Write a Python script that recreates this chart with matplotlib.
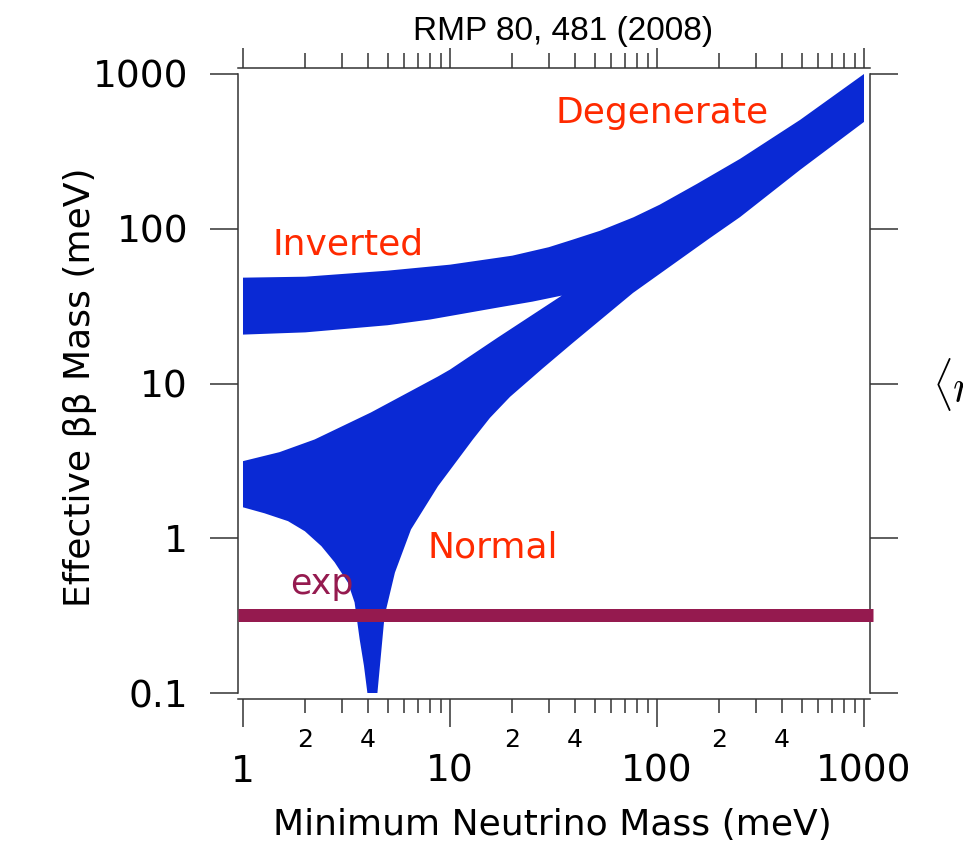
'''
Effective double-beta mass vs. minimum neutrino mass
- log-log band plot with Igor style axes
'''

import matplotlib
matplotlib.use('Agg')
import matplotlib.pyplot as plt
from matplotlib.ticker import FixedLocator, FuncFormatter, NullLocator, NullFormatter
import numpy as np

# upper edge of the allowed band (inverted top, runs into degenerate)
top_mass = [1, 2, 5, 10, 20, 30, 39, 53, 77, 103, 156, 252, 491, 1000]
top_mbb = [48.3, 49, 53.6, 58.6, 67, 76, 84.9, 97, 118.6, 143, 195, 283, 505, 1000]

# lower edge of the allowed band (normal bottom, dip near 4 meV)
low_mass = [1, 1.27, 1.65, 1.99, 2.39, 2.77, 3.21, 3.46, 3.66, 3.84, 3.99, 4.2,
            4.46, 4.83, 5.42, 6.48, 8.75, 12.9, 15.6, 19.5, 28, 39.2, 76.6, 180, 252, 491, 1000]
low_mbb = [1.585, 1.45, 1.29, 1.11, 0.89, 0.70, 0.518, 0.385, 0.223, 0.15, 0.1, 0.04,
           0.1, 0.315, 0.6, 1.14, 2.17, 4.35, 6.0, 8.2, 12.5, 18.3, 38.5, 87, 119, 240, 490]

# white wedge between the two hierarchies
# lower side = normal top, upper side = inverted bottom
gap_low_mass = [1, 1.5, 2.22, 4.15, 8.75, 10, 17, 34.7]
gap_low_mbb = [3.15, 3.6, 4.35, 6.5, 11.1, 12.3, 19.8, 37]
gap_high_mass = [1, 2, 5, 8, 16.9, 25, 34.7]
gap_high_mbb = [20.7, 21.4, 23.8, 25.9, 30.9, 33.8, 37]

# experimental sensitivity
exp_mbb = 0.32

x_major = [1, 10, 100, 1000]
x_major_labels = ['1', '10', '100', '1000']
y_major = [0.1, 1, 10, 100, 1000]
y_major_labels = ['0.1', '1', '10', '100', '1000']
x_minor = [d * 10 ** k for k in range(3) for d in range(2, 10)]

blue = '#0a29d4'
red = '#ff2a00'
maroon = '#951a4f'
spine_color = '#333333'

W, H = 963, 842
PT = 0.72  # points per pixel at dpi 100

fig = plt.figure(figsize=(W / 100, H / 100), dpi=100)
ax = fig.add_axes([238 / W, 1 - 693 / H, 632 / W, 619 / H])
ax.set_xscale('log')
ax.set_yscale('log')

# outline of the band as one polygon: top, lower edge back, then round the gap
poly_x = top_mass + low_mass[::-1] + gap_low_mass + gap_high_mass[::-1]
poly_y = top_mbb + low_mbb[::-1] + gap_low_mbb + gap_high_mbb[::-1]
ax.fill(poly_x, poly_y, color=blue, lw=0, zorder=2)

ax.axhline(exp_mbb, xmin=0, xmax=1.0047, color=maroon, lw=13 * PT,
           solid_capstyle='butt', clip_on=False, zorder=3)

ax.set_xlim(0.946, 1069)
ax.set_ylim(0.1, 1000)

# labels inside the plot
ax.text(32.2, 483, 'Degenerate', color=red, fontsize=26, ha='left', va='baseline')
ax.text(1.39, 68, 'Inverted', color=red, fontsize=26, ha='left', va='baseline')
ax.text(7.8, 0.75, 'Normal', color=red, fontsize=26, ha='left', va='baseline')
ax.text(1.69, 0.435, 'exp', color=maroon, fontsize=25, ha='left', va='baseline')

# x axis (bottom)
ax.set_xticks(x_major, x_major_labels)
ax.xaxis.set_minor_locator(FixedLocator(x_minor))

def minor_label(v, pos):
    lead = int(round(v / 10 ** np.floor(np.log10(v))))
    return str(lead) if lead in (2, 4) else ''

ax.xaxis.set_minor_formatter(FuncFormatter(minor_label))
ax.tick_params(axis='x', which='major', direction='out', length=28 * PT, width=1.1,
               pad=27 * PT, labelsize=27, top=False, color=spine_color)
ax.tick_params(axis='x', which='minor', direction='out', length=14 * PT, width=1.1,
               pad=15 * PT, labelsize=18, top=False, color=spine_color)

# y axis (left and right)
ax.set_yticks(y_major, y_major_labels)
ax.yaxis.set_minor_locator(NullLocator())
ax.tick_params(axis='y', which='major', direction='out', length=28 * PT, width=1.1,
               pad=22 * PT, labelsize=27, left=True, right=True, color=spine_color)

ax.spines['top'].set_visible(False)
ax.spines['bottom'].set_position(('outward', 6 * PT))
for s in ax.spines.values():
    s.set_linewidth(1.1)
    s.set_color(spine_color)

# top axis, offset a little above the plot
sec = ax.secondary_xaxis(1 + 6 / 619)
sec.set_xticks(x_major)
sec.xaxis.set_minor_locator(FixedLocator(x_minor))
sec.xaxis.set_major_formatter(NullFormatter())
sec.xaxis.set_minor_formatter(NullFormatter())
sec.tick_params(which='major', direction='out', length=20 * PT, width=1.1, color=spine_color)
sec.tick_params(which='minor', direction='out', length=15 * PT, width=1.1, color=spine_color)
sec.spines['top'].set_linewidth(1.1)
sec.spines['top'].set_color(spine_color)

# axis titles
ax.set_xlabel('Minimum Neutrino Mass (meV)', fontsize=26)
ax.xaxis.label.set_va('center')
ax.xaxis.set_label_coords((552 - 238) / 632, (693 - 825) / 619)
ax.set_ylabel('Effective \u03b2\u03b2 Mass (meV)', fontsize=26)
ax.yaxis.label.set_va('center')
ax.yaxis.set_label_coords((80 - 238) / 632, (693 - 387) / 619)

fig.text(563 / W, 1 - 40 / H, 'RMP 80, 481 (2008)', ha='center', va='baseline',
         fontsize=24, family='Liberation Sans')

# formula at the right edge of the page (cut off there, as in the source)
fig.text(932 / W, 1 - 387 / H, r'$\langle m_{\beta\beta}\rangle$', ha='left', va='center',
         fontsize=32, math_fontfamily='cm')

plt.savefig('out.png', dpi=100)
